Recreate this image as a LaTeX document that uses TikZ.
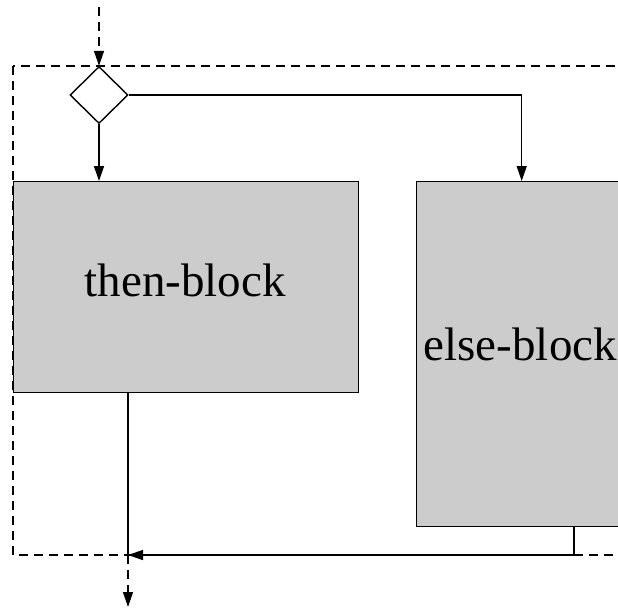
\documentclass[tikz,border=0pt]{standalone}
\usepackage{fontspec}
\setmainfont{Liberation Serif}
\usetikzlibrary{shapes.geometric,arrows.meta}
\definecolor{blockgray}{RGB}{204,204,204}
\tikzset{
  blockbox/.style={draw, fill=blockgray, rectangle, inner sep=0pt, anchor=north west},
  decision/.style={draw, diamond, inner sep=0pt, minimum width=58pt, minimum height=57pt},
  arr/.style={-{Triangle[length=15pt,width=10pt]}},
  dash9/.style={dash pattern=on 9pt off 6pt},
  blocktext/.style={font=\fontsize{47}{50}\selectfont, inner sep=0pt, anchor=base west},
}
\begin{document}
\begin{tikzpicture}[x=1pt, y=-1pt, line width=1.4pt]
\useasboundingbox (0,0) rectangle (618,614);
\clip (0,0) rectangle (618,614);
\fill[white] (0,0) rectangle (618,614);
% dashed frame
\draw[dash9] (13,66) rectangle (680,555);
% nodes
\node[decision] (d) at (99,95) {};
\node[blockbox, minimum width=345pt, minimum height=211pt] (then) at (13,181) {};
\node[blockbox, minimum width=210pt, minimum height=345pt] (else) at (416,181) {};
\node[blocktext] (thentxt) at (84,296) {then-block};
\node[blocktext] (elsetxt) at (423,360) {else-block};
% coordinates
\coordinate (in) at (99,7);
\coordinate (thenout) at (128,392);
\coordinate (join) at (128,555);
\coordinate (out) at (128,607);
\coordinate (elseout) at (574,526);
\coordinate (elsecorner) at (574,555);
% connectors
\draw[dash9, arr] (in) -- (d.north);
\draw[arr] (d.south) -- (d.south |- then.north);
\draw[arr] (d.east) -| (else.north);
\draw (thenout) -- (join);
\draw[dash9, arr] (join) -- (out);
\draw[arr] (elseout) -- (elsecorner) -- (join);
\end{tikzpicture}
\end{document}
